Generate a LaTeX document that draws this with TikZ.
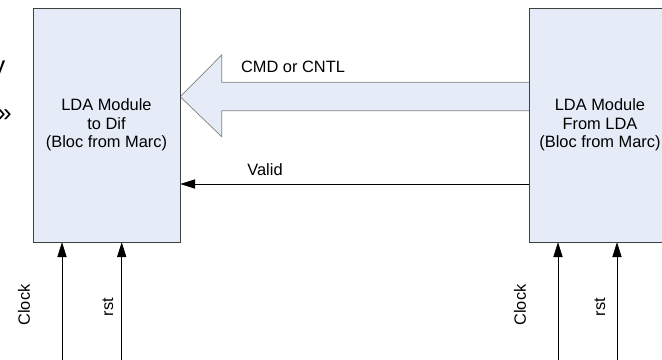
\documentclass[tikz,border=0pt]{standalone}
\usepackage{fontspec}
\setmainfont{Liberation Sans}
\usetikzlibrary{arrows.meta,backgrounds}

\definecolor{boxfill}{HTML}{E6ECF7}
\definecolor{boxline}{HTML}{404040}
\definecolor{pipeline}{HTML}{7F7F7F}

\begin{document}
\begin{tikzpicture}[x=0.03cm,y=-0.03cm]
\tikzset{module/.style={draw=boxline, fill=boxfill, minimum height=7.02cm, align=center, font=\fontsize{14}{15.8}\selectfont},
  sig/.style={draw=black, line width=0.6pt, -{Triangle[length=0.45cm, width=0.28cm]}},
  pipe/.style={draw=pipeline, fill=boxfill, line width=0.6pt},
  lbl/.style={font=\fontsize{14}{15.8}\selectfont}}
\useasboundingbox (0,0) rectangle (662,360);
\node[module, minimum width=4.41cm] (toDif) at (106.5,125) {LDA Module\\to Dif\\(Bloc from Marc)};
\node[module, minimum width=4.26cm] (fromLDA) at (600,125) {LDA Module\\From LDA\\(Bloc from Marc)};
% wide bus arrow
\begin{pgfonlayer}{background}
\draw[pipe] (fromLDA.west |- 0,82.3) -- (221.7,82.3) -- (221.7,55) -- (toDif.east |- 0,96.7)
  -- (221.7,136.7) -- (221.7,110.7) -- (fromLDA.west |- 0,110.7);
\end{pgfonlayer}
\node[lbl] (cmd) at (293,66.7) {CMD or CNTL};
\draw[sig] (fromLDA.west |- 0,184) -- (toDif.east |- 0,184);
\node[lbl] (valid) at (265,170) {Valid};
% clock and reset inputs
\coordinate (clkA) at (62,362);
\coordinate (rstA) at (121.7,362);
\coordinate (clkB) at (558,362);
\coordinate (rstB) at (617,362);
\draw[sig] (clkA) -- (clkA |- toDif.south);
\draw[sig] (rstA) -- (rstA |- toDif.south);
\draw[sig] (clkB) -- (clkB |- fromLDA.south);
\draw[sig] (rstB) -- (rstB |- fromLDA.south);
\node[lbl, rotate=90] (clkAlbl) at (24,305) {Clock};
\node[lbl, rotate=90] (rstAlbl) at (108,307) {rst};
\node[lbl, rotate=90] (clkBlbl) at (520,305) {Clock};
\node[lbl, rotate=90] (rstBlbl) at (600,307) {rst};
% text running off the left edge
\node[anchor=east, inner sep=0pt, font=\fontsize{22}{22}\selectfont] (cutA) at (5.5,70) {y};
\node[anchor=east, inner sep=0pt, font=\fontsize{22}{22}\selectfont] (cutB) at (12,116) {»};
\end{tikzpicture}
\end{document}
